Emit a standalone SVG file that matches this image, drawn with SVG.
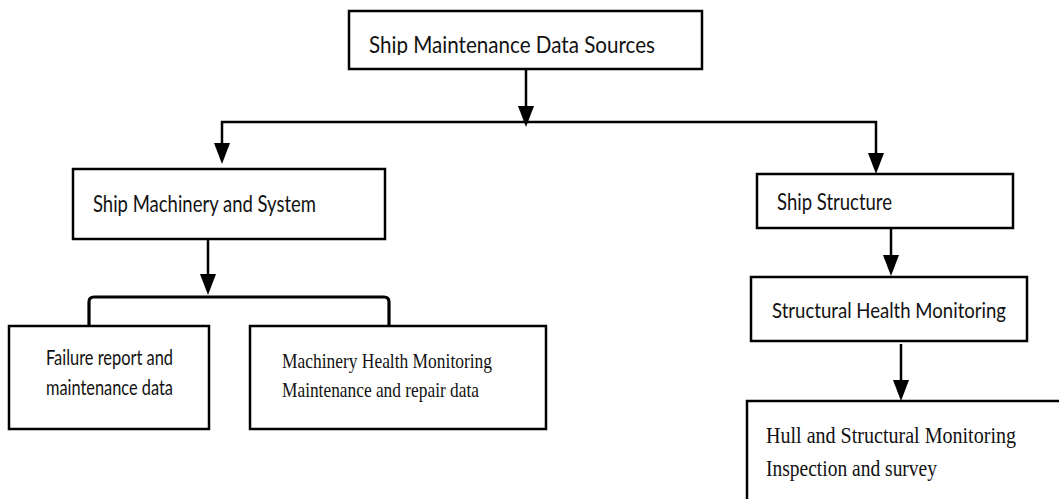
<svg xmlns="http://www.w3.org/2000/svg" width="1059" height="499" viewBox="0 0 1059 499">
  <style>
    .box { fill: #ffffff; stroke: #000000; stroke-width: 2.5; }
    .sans { font-family: Lato, "Liberation Sans", sans-serif; fill: #111111; }
    .serif { font-family: "Liberation Serif", "Times New Roman", serif; fill: #111111; }
    .wire { fill: none; stroke: #000000; stroke-width: 2.5; }
    .head { fill: #000000; }
  </style>
  <defs>
    <clipPath id="topclip">
      <rect x="350" y="12" width="350" height="43"/>
    </clipPath>
  </defs>
  <rect width="1059" height="499" fill="#ffffff"/>

  <g id="connectors">
    <!-- root to the distribution bar -->
    <line class="wire" x1="526" y1="69" x2="526" y2="107"/>
    <path class="head" d="M518,106 L534,106 L526,127 Z"/>
    <!-- distribution bar and its two drops -->
    <path class="wire" d="M222,143 L222,122 L876,122 L876,153"/>
    <path class="head" d="M214,143 L230,143 L222,164 Z"/>
    <path class="head" d="M868,153 L884,153 L876,174 Z"/>
    <!-- machinery to its bracket -->
    <line class="wire" x1="208" y1="239" x2="208" y2="275"/>
    <path class="head" d="M200,274 L216,274 L208,295 Z"/>
    <path d="M89,326 L89,302 Q89,297 94,297 L384,297 Q389,297 389,302 L389,326" fill="none" stroke="#000000" stroke-width="3.2"/>
    <!-- structure chain -->
    <line class="wire" x1="891" y1="228" x2="891" y2="256"/>
    <path class="head" d="M883,255 L899,255 L891,276 Z"/>
    <line class="wire" x1="901" y1="344" x2="901" y2="381"/>
    <path class="head" d="M893,380 L909,380 L901,401 Z"/>
  </g>

  <g id="root">
    <rect class="box" x="349" y="11" width="353" height="58"/>
    <text class="sans" x="369" y="53" font-size="23" textLength="286" lengthAdjust="spacingAndGlyphs" clip-path="url(#topclip)">Ship Maintenance Data Sources</text>
  </g>

  <g id="machinery">
    <rect class="box" x="73" y="169" width="312" height="70"/>
    <text class="sans" x="93" y="212" font-size="23" textLength="223" lengthAdjust="spacingAndGlyphs">Ship Machinery and System</text>
  </g>

  <g id="structure">
    <rect class="box" x="757" y="174" width="256" height="54"/>
    <text class="sans" x="777" y="210" font-size="23" textLength="115" lengthAdjust="spacingAndGlyphs">Ship Structure</text>
  </g>

  <g id="shm">
    <rect class="box" x="751" y="277" width="276" height="64"/>
    <text class="sans" x="772" y="318" font-size="22" textLength="234" lengthAdjust="spacingAndGlyphs">Structural Health Monitoring</text>
  </g>

  <g id="failure">
    <rect class="box" x="9" y="326" width="200" height="103"/>
    <text class="sans" x="46" y="365" font-size="21" textLength="127" lengthAdjust="spacingAndGlyphs">Failure report and</text>
    <text class="sans" x="46" y="395" font-size="21" textLength="127" lengthAdjust="spacingAndGlyphs">maintenance data</text>
  </g>

  <g id="mhm">
    <rect class="box" x="250" y="326" width="296" height="103"/>
    <text class="serif" x="282" y="368" font-size="21" textLength="210" lengthAdjust="spacingAndGlyphs">Machinery Health Monitoring</text>
    <text class="serif" x="282" y="397" font-size="21" textLength="197" lengthAdjust="spacingAndGlyphs">Maintenance and repair data</text>
  </g>

  <g id="hull">
    <path class="box" d="M1062,401 L747,401 L747,505"/>
    <text class="serif" x="766" y="443" font-size="23" textLength="250" lengthAdjust="spacingAndGlyphs">Hull and Structural Monitoring</text>
    <text class="serif" x="766" y="476" font-size="23" textLength="171" lengthAdjust="spacingAndGlyphs">Inspection and survey</text>
  </g>
</svg>
